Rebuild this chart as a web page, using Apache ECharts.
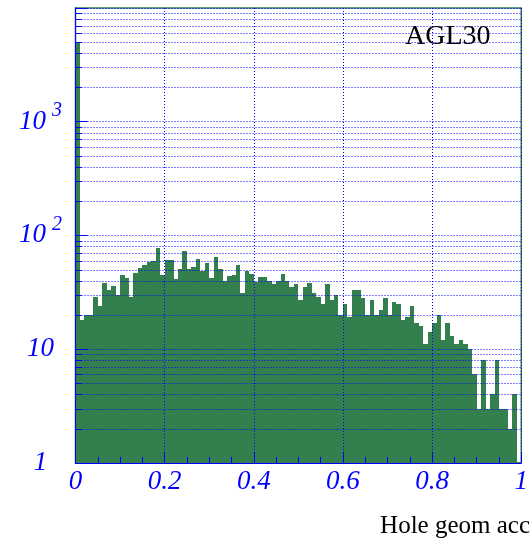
<!DOCTYPE html>
<html><head><meta charset="utf-8">
<script src="https://cdn.jsdelivr.net/npm/echarts@6/dist/echarts.min.js"></script>
<style>html,body{margin:0;padding:0;background:#fff}#c{width:531px;height:538px}</style>
</head><body><div id="c"></div>
<script>
// ---- data ----
const binStart = 0;
const binWidth = 0.01;
const counts = [
  5050, 18, 20, 20, 29, 24, 38, 33, 36, 30,
  45, 42, 29, 47, 52, 55, 58, 59, 78, 45,
  61, 61, 41, 51, 73, 51, 53, 62, 49, 57,
  42, 65, 51, 40, 44, 45, 55, 31, 49, 46,
  39, 43, 43, 40, 37, 40, 46, 40, 35, 37,
  27, 35, 38, 31, 29, 25, 37, 27, 30, 20,
  25, 19, 33, 33, 28, 20, 27, 20, 22, 28,
  20, 26, 25, 18, 19, 24, 17, 16, 11, 14,
  17, 20, 12, 17, 13, 11, 12, 11, 10, 6,
  3, 8, 3, 4, 8, 3, 3, 2, 4, 0
];
const xTickValues = [0, 0.2, 0.4, 0.6, 0.8, 1];
const yDecades = [1, 10, 100, 1000, 10000];
const yMinor = [2,3,4,5,6,7,8,9, 20,30,40,50,60,70,80,90, 200,300,400,500,600,700,800,900, 2000,3000,4000,5000,6000,7000,8000,9000];
const titleText = 'AGL30';
const xTitleText = 'Hole geom acc';

// ---- style ----
const BLUE = '#0000ff';
const GREEN = '#347f4e';
const FONT = '"Liberation Serif", "DejaVu Serif", serif';

const binData = counts.map((c, i) => [binStart + i * binWidth, binStart + (i + 1) * binWidth, c]);

const chart = echarts.init(document.getElementById('c'), null, {renderer: 'canvas'});
chart.setOption({
  animation: false,
  backgroundColor: '#fff',
  grid: {left: 75.5, top: 8, width: 453, height: 454.8, show: true, borderColor: GREEN, borderWidth: 1.5, backgroundColor: 'transparent'},
  xAxis: {
    type: 'value', min: 0, max: 1, interval: 0.2, z: 10,
    axisLine: {show: true, onZero: false, lineStyle: {color: BLUE, width: 1}},
    axisTick: {show: true, inside: true, length: 11, lineStyle: {color: BLUE, width: 1}},
    minorTick: {show: true, splitNumber: 4, length: 6, lineStyle: {color: BLUE, width: 1}},
    splitLine: {show: true, lineStyle: {color: BLUE, type: [1, 2], width: 1}},
    axisLabel: {color: BLUE, fontFamily: FONT, fontStyle: 'italic', fontSize: 27, margin: 6,
      showMinLabel: true, showMaxLabel: true,
      formatter: v => String(Math.round(v * 10) / 10)}
  },
  yAxis: {
    type: 'log', logBase: 10, min: 1, max: 10000, splitNumber: 4, z: 10,
    axisLine: {show: true, lineStyle: {color: BLUE, width: 1}},
    axisTick: {show: true, inside: true, length: 12, lineStyle: {color: BLUE, width: 1}},
    splitLine: {show: true, lineStyle: {color: BLUE, type: [1, 2], width: 1}},
    axisLabel: {color: BLUE, fontFamily: FONT, fontStyle: 'italic', fontSize: 27, margin: 35, align: 'center',
      formatter: v => {
        const e = Math.round(Math.log10(v));
        if (e === 0) return '1';
        if (e === 1) return '10';
        if (e >= 4) return '';
        return '{b|10}{s|' + e + '}';
      },
      rich: {
        b: {fontFamily: FONT, fontStyle: 'italic', fontSize: 27, color: BLUE},
        s: {fontFamily: FONT, fontStyle: 'italic', fontSize: 20, color: BLUE, padding: [0, 0, 22, 6]}
      }
    }
  },
  series: [
    {
      type: 'custom', z: 2, data: binData, clip: true,
      renderItem: (params, api) => {
        const c = api.value(2);
        if (!(c >= 1)) return null;
        const p1 = api.coord([api.value(0), c]);
        const p2 = api.coord([api.value(1), 1]);
        const x0 = Math.round(p1[0]), x1 = Math.round(p2[0]);
        const y0 = Math.round(p1[1]), y1 = Math.ceil(p2[1]);
        return {type: 'rect', shape: {x: x0, y: y0, width: x1 - x0, height: y1 - y0},
          style: {fill: GREEN}};
      }
    },
    {
      type: 'custom', z: 12, data: yMinor.map(v => [0, v]), silent: true,
      renderItem: (params, api) => {
        const cs = params.coordSys;
        const y = Math.round(api.coord([0, api.value(1)])[1]) + 0.5;
        return {type: 'group', children: [
          {type: 'line', shape: {x1: cs.x, y1: y, x2: cs.x + cs.width, y2: y},
            style: {stroke: BLUE, lineWidth: 1, lineDash: [1, 2]}},
          {type: 'line', shape: {x1: cs.x, y1: y, x2: cs.x + 6, y2: y},
            style: {stroke: BLUE, lineWidth: 1}}
        ]};
      }
    }
  ],
  graphic: [
    {type: 'text', left: 405, top: 23, z: 20, style: {text: titleText, font: '28px ' + FONT, fill: '#000'}},
    {type: 'text', right: 1, top: 514, z: 20, style: {text: xTitleText, font: '25px ' + FONT, fill: '#000'}}
  ]
});
</script>
</body></html>
